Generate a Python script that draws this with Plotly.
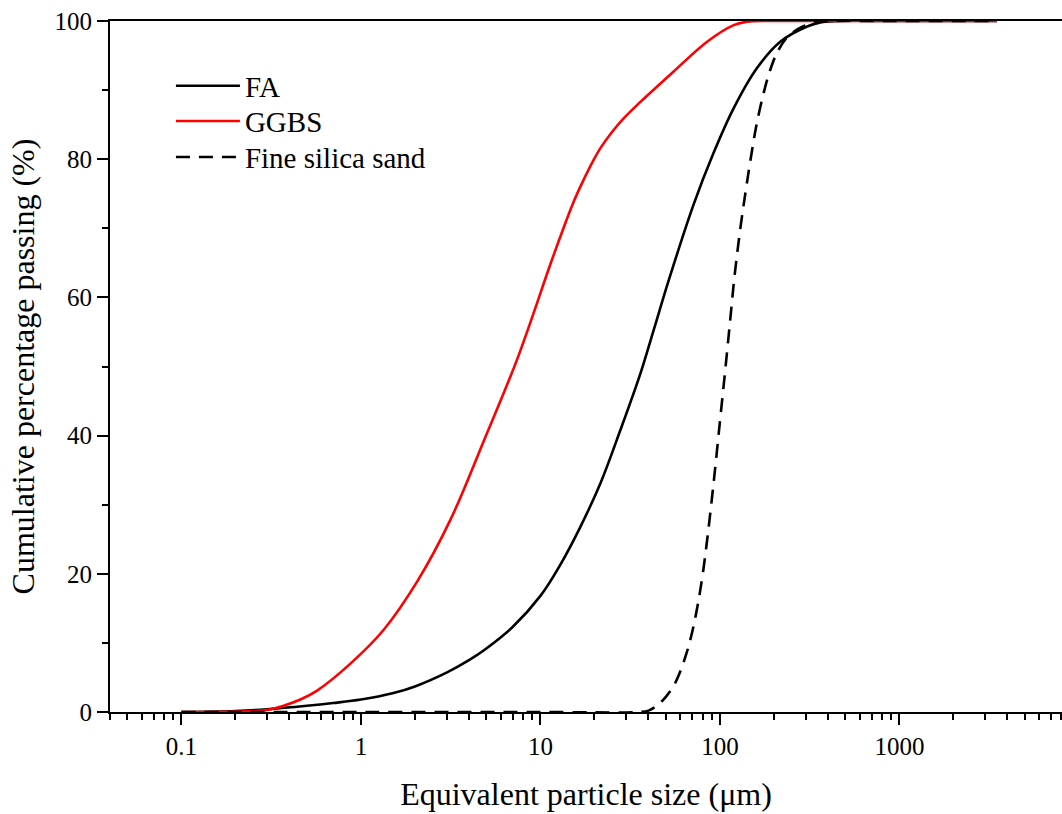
import math
import plotly.graph_objects as go

# Particle size distributions: equivalent diameter (µm) vs cumulative % passing
fa_size = [0.1, 0.2, 0.3, 0.5, 0.7, 1.0, 1.5, 2.0, 3.0, 4.0, 5.0, 7.0, 10, 12.9, 16.7,
           21.6, 27.9, 36.1, 42.8, 51.9, 71.5, 92.5, 119.4, 161, 217, 306, 363, 450,
           1000, 3500]
fa_pass = [0, 0.15, 0.4, 0.9, 1.3, 1.8, 2.7, 3.7, 5.7, 7.5, 9.2, 12.3, 16.8, 21.3, 26.8,
           33.1, 40.8, 49.0, 55.3, 62.5, 73.5, 81.0, 87.4, 93.2, 97.0, 99.2, 99.8, 100,
           100, 100]

ggbs_size = [0.1, 0.2, 0.3, 0.371, 0.46, 0.57, 0.874, 1.34, 2.06, 3.15, 4.83, 7.41,
             11.4, 13, 15.3, 17.4, 19.8, 21.6, 25, 29.1, 36.1, 55.3, 84.9, 119.4,
             141.8, 200, 500, 1000, 3500]
ggbs_pass = [0, 0.05, 0.3, 0.9, 1.8, 3.1, 7.0, 11.9, 18.9, 27.8, 39.2, 51.0,
             64.9, 69.0, 73.8, 77.0, 79.9, 81.6, 83.9, 85.9, 88.3, 92.7, 97.0, 99.4,
             99.9, 100, 100, 100, 100]

sand_size = [0.1, 1, 10, 35, 40, 45, 50, 55, 60, 65, 70, 75, 80, 85, 90, 95, 100, 105,
             110, 115, 120, 130, 140, 150, 160, 175, 190, 210, 240, 290, 350, 400,
             1000, 3500]
sand_pass = [0, 0, 0, 0, 0.2, 1.0, 2.2, 3.7, 5.8, 8.4, 11.5, 15.3, 19.7, 25.0, 30.6,
             36.3, 42.0, 47.3, 52.5, 57.6, 62.5, 70.0, 75.8, 80.8, 85.0, 89.5, 92.8,
             95.6, 97.8, 99.2, 99.9, 100, 100, 100]

x_tick_vals = [0.1, 1, 10, 100, 1000]
x_tick_text = ["0.1", "1", "10", "100", "1000"]
y_tick_vals = [0, 20, 40, 60, 80, 100]

FONT = "Liberation Serif, Times New Roman, serif"
LINE_W = 2.6

fig = go.Figure()
fig.add_trace(go.Scatter(x=fa_size, y=fa_pass, mode="lines", name="FA", legend="legend",
                         line=dict(color="black", width=LINE_W, shape="spline", smoothing=1)))
fig.add_trace(go.Scatter(x=ggbs_size, y=ggbs_pass, mode="lines", name="GGBS", legend="legend2",
                         line=dict(color="#ff0000", width=LINE_W, shape="spline", smoothing=1)))
fig.add_trace(go.Scatter(x=sand_size, y=sand_pass, mode="lines", name="Fine silica sand",
                         legend="legend3",
                         line=dict(color="black", width=LINE_W, dash="14px,9px",
                                   shape="spline", smoothing=1)))

minor_x = [m * 10 ** e for e in range(-2, 4) for m in range(2, 10)]


def legend_box(y):
    return dict(x=0.064, y=y, xanchor="left", yanchor="middle",
                bgcolor="rgba(0,0,0,0)", borderwidth=0, itemwidth=64,
                font=dict(family=FONT, size=29, color="black"))


fig.update_layout(
    width=1062, height=814,
    margin=dict(l=110, r=0, t=21, b=102),
    paper_bgcolor="white", plot_bgcolor="white",
    font=dict(family=FONT, color="black", size=25),
    showlegend=True,
    legend=legend_box(0.906),
    legend2=legend_box(0.855),
    legend3=legend_box(0.803),
    xaxis=dict(
        type="log", range=[math.log10(0.04), 3.906],
        showline=True, linecolor="black", linewidth=2, mirror=True,
        showgrid=False, zeroline=False,
        ticks="outside", ticklen=11, tickwidth=2, tickcolor="black",
        tickvals=x_tick_vals, ticktext=x_tick_text,
        tickfont=dict(family=FONT, size=25),
        minor=dict(tickvals=minor_x, ticks="outside", ticklen=6, tickwidth=2,
                   tickcolor="black", showgrid=False),
        title=dict(text="Equivalent particle size (μm)", standoff=24,
                   font=dict(family=FONT, size=32)),
    ),
    yaxis=dict(
        range=[0, 100], showline=True, linecolor="black", linewidth=2, mirror=False,
        showgrid=False, zeroline=False,
        ticks="outside", ticklen=11, tickwidth=2, tickcolor="black",
        tickvals=y_tick_vals, tickfont=dict(family=FONT, size=25),
        minor=dict(dtick=10, ticks="outside", ticklen=6, tickwidth=2,
                   tickcolor="black", showgrid=False),
        title=dict(text="Cumulative percentage passing (%)", standoff=10,
                   font=dict(family=FONT, size=32)),
    ),
)

fig.write_html("out.html")
